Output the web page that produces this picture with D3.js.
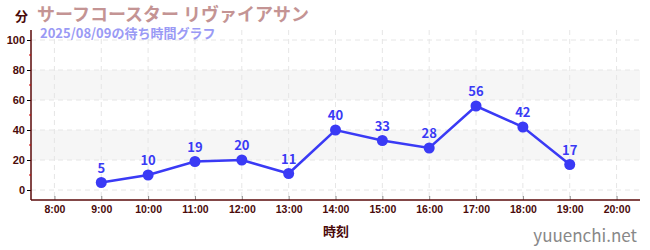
<!DOCTYPE html>
<html><head><meta charset="utf-8">
<script src="https://cdn.jsdelivr.net/npm/d3@7"></script>
<style>body{margin:0;background:#fff;}svg{display:block;font-family:"Noto Sans CJK JP","Noto Sans",sans-serif;}</style>
</head><body><svg id="c" width="650" height="250"></svg>
<script>
const hours = [9,10,11,12,13,14,15,16,17,18,19];
const waits = [5,10,19,20,11,40,33,28,56,42,17];
const xTickHours = [8,9,10,11,12,13,14,15,16,17,18,19,20];
const xTickLabels = ["8:00","9:00","10:00","11:00","12:00","13:00","14:00","15:00","16:00","17:00","18:00","19:00","20:00"];
const yTicks = [0,20,40,60,80,100];
const yMinor = [10,30,50,70,90];
const bands = [[20,40],[60,80]];
const title = "サーフコースター リヴァイアサン";
const subtitle = "2025/08/09の待ち時間グラフ";

const svg = d3.select("#c");
const x = d3.scaleLinear().domain([7.5,20.5]).range([31,640]);
const y = d3.scaleLinear().domain([0,100]).range([190,40]);
const axisCol = "#4a0a0a";

// bands
svg.selectAll("rect.band").data(bands).enter().append("rect")
  .attr("x",31).attr("width",609)
  .attr("y",d=>y(d[1])).attr("height",d=>y(d[0])-y(d[1]))
  .attr("fill","#f6f6f6");
// grid
svg.selectAll("line.hg").data(yTicks).enter().append("line")
  .attr("x1",31).attr("x2",640).attr("y1",d=>y(d)).attr("y2",d=>y(d))
  .attr("stroke","#e6e6e6").attr("stroke-dasharray","5,4");
svg.selectAll("line.vg").data(xTickHours).enter().append("line")
  .attr("x1",d=>x(d)).attr("x2",d=>x(d)).attr("y1",30).attr("y2",200)
  .attr("stroke","#e6e6e6").attr("stroke-dasharray","5,4");

// axes
const yAxis = d3.axisLeft(y).tickValues(yTicks).tickSize(4).tickPadding(2);
const gy = svg.append("g").attr("transform","translate(31,0)").call(yAxis);
gy.select(".domain").remove();
gy.append("line").attr("x1",0).attr("x2",0).attr("y1",30).attr("y2",200).attr("stroke","#5a0a0a").attr("stroke-width",1.5);
gy.selectAll(".tick line").attr("stroke","#000");
gy.selectAll(".tick text").attr("fill",axisCol).attr("font-size",11).attr("font-weight","bold");
svg.selectAll("line.ym").data(yMinor).enter().append("line")
  .attr("x1",29).attr("x2",31).attr("y1",d=>y(d)).attr("y2",d=>y(d)).attr("stroke","#d00000");

const xAxis = d3.axisBottom(x).tickValues(xTickHours).tickFormat((d,i)=>xTickLabels[i]).tickSize(4).tickPadding(3);
const gx = svg.append("g").attr("transform","translate(0,200)").call(xAxis);
gx.select(".domain").remove();
gx.append("line").attr("x1",31).attr("x2",640).attr("y1",0).attr("y2",0).attr("stroke","#5a0a0a").attr("stroke-width",1.5);
gx.selectAll(".tick line").attr("stroke","#888").attr("transform","translate(0,-4)");
gx.selectAll(".tick text").attr("fill",axisCol).attr("font-size",10.5).attr("font-weight","bold").attr("y",6);

// line
const pts = hours.map((h,i)=>[h,waits[i]]);
svg.append("path").datum(pts)
  .attr("d",d3.line().x(d=>x(d[0])).y(d=>y(d[1])))
  .attr("fill","none").attr("stroke","#3a3af5").attr("stroke-width",2.5);
svg.selectAll("circle.pt").data(pts).enter().append("circle")
  .attr("cx",d=>x(d[0])).attr("cy",d=>y(d[1])).attr("r",5.5).attr("fill","#3a3af5");
svg.selectAll("text.lbl").data(pts).enter().append("text")
  .attr("x",d=>x(d[0])).attr("y",d=>y(d[1])-10).attr("text-anchor","middle")
  .attr("fill","#3a3af5").attr("font-size",13).attr("font-weight","bold").text(d=>d[1]);

// titles
svg.append("text").attr("x",15).attr("y",21).attr("fill","#4a0a0a").attr("font-size",13).attr("font-weight","bold").text("分");
svg.append("text").attr("x",37).attr("y",21).attr("fill","#c49494").attr("font-size",18).attr("font-weight","bold").text(title);
svg.append("text").attr("x",40).attr("y",38).attr("fill","#9a9af5").attr("font-size",13).attr("font-weight","bold").text(subtitle);
svg.append("text").attr("x",336).attr("y",236).attr("text-anchor","middle").attr("fill","#4a0a0a").attr("font-size",13).attr("font-weight","bold").text("時刻");
svg.append("text").attr("x",637).attr("y",242).attr("text-anchor","end").attr("fill","#888").attr("font-size",17).text("yuuenchi.net");
</script></body></html>
